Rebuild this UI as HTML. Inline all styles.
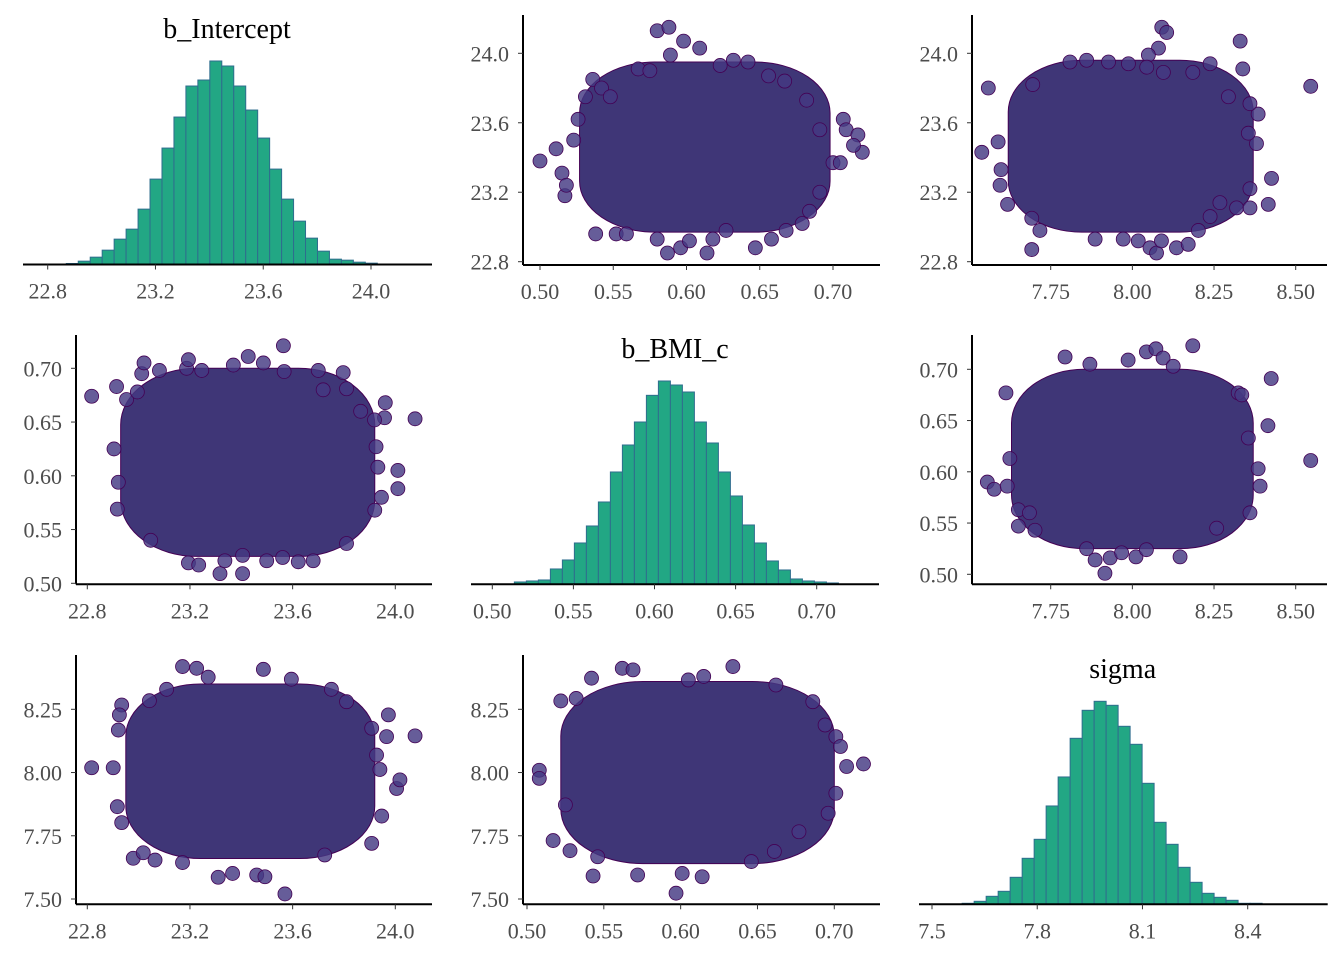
<!DOCTYPE html>
<html><head><meta charset="utf-8"><style>
html,body{margin:0;padding:0;background:#fff;}
svg{display:block;font-family:"Liberation Serif",serif;}
</style></head><body>
<svg id="chart" width="1344" height="960" viewBox="0 0 1344 960" xmlns="http://www.w3.org/2000/svg"></svg>
<script>
// ---------- histogram data ----------
const histInterceptCounts=[3,10,22,43,76,106,166,256,349,442,535,553,610,595,535,463,379,286,196,130,79,40,16,13,7,4];
const histInterceptStart=22.869, histInterceptWidth=0.0444;
const histBmiCounts=[7,10,13,46,73,124,175,247,337,418,487,567,610,598,577,487,424,337,265,178,124,70,43,16,10,7,4];
const histBmiStart=0.5136, histBmiWidth=0.0074;
const histSigmaCounts=[3,9,24,39,81,138,195,295,382,498,582,609,597,534,480,363,246,180,111,66,33,21,12,3,3];
const histSigmaStart=7.586, histSigmaWidth=0.0342;
const interceptTicks=["22.8","23.2","23.6","24.0"];
const bmiTicks=["0.50","0.55","0.60","0.65","0.70"];
const sigmaTicks=["7.75","8.00","8.25","8.50"];
const sigmaHistTicks=["7.5","7.8","8.1","8.4"];
const interceptYTicks=["22.8","23.2","23.6","24.0"];
const bmiYTicks=["0.50","0.55","0.60","0.65","0.70"];
const sigmaYTicks=["7.50","7.75","8.00","8.25"];

// ---------- scatter data (visible edge/outlier draws) ----------
const p12x=[0.50,0.511,0.515,0.517,0.518,0.523,0.526,0.531,0.536,0.538,0.542,0.548,0.567,0.580,0.588,0.598,0.609,0.614,0.596,0.587,0.580,0.602,0.618,0.627,0.647,0.658,0.668,0.679,0.684,0.691,0.700,0.705,0.707,0.709,0.717,0.720,0.714,0.691,0.682,0.667,0.656,0.642,0.632,0.623,0.589,0.575,0.552,0.559];
const p12y=[23.38,23.45,23.31,23.18,23.24,23.50,23.62,23.75,23.85,22.96,23.80,23.75,23.91,24.13,24.15,24.07,24.03,22.85,22.88,22.85,22.93,22.92,22.93,22.98,22.88,22.93,22.98,23.02,23.09,23.20,23.37,23.37,23.62,23.56,23.53,23.43,23.47,23.56,23.73,23.84,23.87,23.95,23.96,23.93,23.99,23.90,22.96,22.96];
const p13x=[7.539,7.559,7.589,7.598,7.595,7.618,7.692,7.717,7.692,7.695,7.809,7.860,7.886,7.927,7.988,7.972,8.018,8.054,8.074,8.089,8.135,8.171,8.202,8.238,8.268,8.319,8.360,8.416,8.426,8.360,8.380,8.355,8.385,8.360,8.330,8.338,8.546,8.294,8.238,8.185,8.090,8.105,8.080,8.049,8.095,8.044];
const p13y=[23.43,23.80,23.49,23.33,23.24,23.13,22.87,22.98,23.05,23.82,23.95,23.96,22.93,23.95,23.94,22.93,22.92,22.88,22.85,22.92,22.88,22.90,22.98,23.06,23.14,23.11,23.11,23.13,23.28,23.22,23.48,23.54,23.65,23.71,24.07,23.91,23.81,23.75,23.94,23.89,24.15,24.12,24.03,23.99,23.89,23.92];
const p21x=[22.817,22.914,22.904,22.917,22.921,22.953,22.995,23.012,23.021,23.081,23.047,23.187,23.194,23.246,23.194,23.234,23.317,23.336,23.405,23.405,23.499,23.561,23.622,23.680,23.810,23.920,23.946,24.010,24.010,23.932,23.925,23.958,23.919,23.961,24.077,23.865,23.810,23.797,23.700,23.564,23.567,23.486,23.427,23.369,23.719];
const p21y=[0.674,0.683,0.625,0.569,0.594,0.671,0.678,0.695,0.705,0.698,0.540,0.700,0.708,0.698,0.519,0.517,0.509,0.521,0.509,0.526,0.521,0.524,0.520,0.521,0.537,0.568,0.580,0.588,0.605,0.608,0.627,0.654,0.652,0.668,0.653,0.660,0.681,0.696,0.698,0.721,0.697,0.705,0.711,0.703,0.680];
const p23x=[7.556,7.577,7.613,7.617,7.625,7.651,7.651,7.702,7.685,7.794,7.870,7.860,7.886,7.916,7.932,7.967,8.011,8.043,8.146,8.043,8.072,8.094,8.125,8.185,7.987,8.324,8.335,8.425,8.415,8.546,8.391,8.360,8.355,8.385,8.258];
const p23y=[0.590,0.583,0.677,0.586,0.613,0.563,0.547,0.543,0.560,0.712,0.705,0.525,0.514,0.501,0.516,0.521,0.517,0.524,0.517,0.717,0.720,0.711,0.703,0.723,0.709,0.677,0.675,0.691,0.645,0.611,0.586,0.560,0.633,0.603,0.545];
const p31x=[22.817,22.901,22.917,22.934,22.921,22.934,22.925,22.979,23.018,23.064,23.042,23.109,23.171,23.226,23.271,23.171,23.310,23.366,23.460,23.492,23.570,23.486,23.595,23.725,23.908,23.947,24.005,24.018,23.940,23.927,23.966,23.973,23.908,24.077,23.810,23.751];
const p31y=[8.019,8.019,7.865,7.802,8.168,8.267,8.228,7.661,7.683,7.654,8.284,8.329,8.419,8.412,8.377,7.644,7.586,7.601,7.595,7.588,7.520,8.408,8.369,7.674,7.720,7.828,7.937,7.971,8.012,8.069,8.142,8.228,8.175,8.145,8.280,8.329];
const p32x=[0.508,0.508,0.517,0.528,0.525,0.522,0.532,0.542,0.546,0.543,0.562,0.569,0.572,0.597,0.601,0.614,0.634,0.615,0.605,0.662,0.686,0.694,0.701,0.719,0.708,0.701,0.696,0.677,0.661,0.646,0.704];
const p32y=[8.009,7.977,7.731,7.691,7.872,8.283,8.293,8.373,7.667,7.591,8.412,8.406,7.595,7.523,7.601,7.588,8.419,8.380,8.366,8.346,8.280,8.188,8.142,8.034,8.024,7.918,7.839,7.766,7.688,7.648,8.103];
// dense core of each cloud: [xMin, xMax, yMin, yMax] in data units
const core12=[0.527,0.698,22.97,23.95];
const core13=[7.62,8.37,22.97,23.96];
const core21=[22.93,23.92,0.525,0.700];
const core23=[7.63,8.37,0.525,0.700];
const core31=[22.95,23.92,7.66,8.35];
const core32=[0.522,0.700,7.64,8.36];

const svg=document.getElementById('chart');
const NS='http://www.w3.org/2000/svg';
function mk(tag,attrs,parent){const e=document.createElementNS(NS,tag);for(const k in attrs)e.setAttribute(k,attrs[k]);(parent||svg).appendChild(e);return e;}
function lin(d0,p0,d1,p1){return v=>p0+(v-d0)*(p1-p0)/(d1-d0);}

function xAxis(g,sx,ticks,y,x0,x1){
  const a=mk('line',{x1:x0,x2:x1,y1:y,y2:y,stroke:'#000','stroke-width':2},g);
  
  ticks.forEach(t=>{const x=sx(parseFloat(t));
    const l=mk('line',{x1:x,x2:x,y1:y,y2:y+5,stroke:'#333','stroke-width':1},g);
    
    const tx=mk('text',{x:x,y:y+34,'text-anchor':'middle','font-size':22,fill:'#4d4d4d'},g);tx.textContent=t;
    });
}
function yAxis(g,sy,ticks,x,y0,y1){
  const a=mk('line',{x1:x,x2:x,y1:y0,y2:y1,stroke:'#000','stroke-width':2},g);
  
  ticks.forEach(t=>{const y=sy(parseFloat(t));
    const l=mk('line',{x1:x-5,x2:x,y1:y,y2:y,stroke:'#333','stroke-width':1},g);
    
    const tx=mk('text',{x:x-14,y:y+8,'text-anchor':'end','font-size':22,fill:'#4d4d4d'},g);tx.textContent=t;
    });
}
function hist(name,title,counts,start,width,sx,base,top,ticks,x0,x1,tcx,tcy){
  const g=mk('g',{});
  const max=Math.max(...counts);
  counts.forEach((c,i)=>{const xa=sx(start+i*width),xb=sx(start+(i+1)*width),h=c/max*(base-top);
    const r=mk('rect',{x:xa,y:base-h,width:xb-xa,height:h,fill:'#22a784',stroke:'#2f6d8e','stroke-width':1},g);
    });
  xAxis(g,sx,ticks,base,x0,x1);
  const t=mk('text',{x:tcx,y:tcy,'text-anchor':'middle','font-size':28,fill:'#000'},g);t.textContent=title;
  
}
function scatter(name,xs,ys,core,sx,sy,xt,yt,ax,ay,axEnd,ayTop){
  const g=mk('g',{});
  const cx0=sx(core[0]),cx1=sx(core[1]),cy0=sy(core[3]),cy1=sy(core[2]);
  const w=cx1-cx0,h=cy1-cy0;
  const c=mk('rect',{x:cx0,y:cy0,width:w,height:h,rx:w*0.3,ry:h*0.3,fill:'#3f3677',stroke:'#440154','stroke-width':1},g);
  
  xs.forEach((v,i)=>{const p=mk('circle',{cx:sx(v),cy:sy(ys[i]),r:7,fill:'rgba(68,57,131,0.82)',stroke:'#440154','stroke-width':0.8},g);
    });
  xAxis(g,sx,xt,ay,ax,axEnd);
  yAxis(g,sy,yt,ax,ayTop,ay);
}
// scales
const sxI1=lin(22.8,47.7,24.0,371);
const sxB2=lin(0.50,540,0.70,833);
const syI=lin(22.8,261.7,24.0,53.3);
const sxS3=lin(7.75,1050.7,8.50,1295.7);
const sxI2=lin(22.8,87.3,24.0,395.3);
const syB4=lin(0.50,583.3,0.70,368.3);
const sxB5=lin(0.50,492.3,0.70,816.7);
const syB6=lin(0.50,574.3,0.70,369.3);
const syS=lin(7.50,899,8.25,709.3);
const sxB8=lin(0.50,527,0.70,834.3);
const sxS9=lin(7.5,932,8.4,1247.7);

hist('hist-b-intercept','b_Intercept',histInterceptCounts,histInterceptStart,histInterceptWidth,sxI1,264.5,61,interceptTicks,23,432,227,38);
scatter('scatter-bmi-vs-intercept',p12x,p12y,core12,sxB2,syI,bmiTicks,interceptYTicks,523,265,880,15);
scatter('scatter-sigma-vs-intercept',p13x,p13y,core13,sxS3,syI,sigmaTicks,interceptYTicks,972,265,1327,15);
scatter('scatter-intercept-vs-bmi',p21x,p21y,core21,sxI2,syB4,interceptTicks,bmiYTicks,76,584.3,432,335);
hist('hist-b-bmi-c','b_BMI_c',histBmiCounts,histBmiStart,histBmiWidth,sxB5,584.3,381,bmiTicks,471,879,675,358);
scatter('scatter-sigma-vs-bmi',p23x,p23y,core23,sxS3,syB6,sigmaTicks,bmiYTicks,972,584.3,1327,335);
scatter('scatter-intercept-vs-sigma',p31x,p31y,core31,sxI2,syS,interceptTicks,sigmaYTicks,76,904.3,432,655);
scatter('scatter-bmi-vs-sigma',p32x,p32y,core32,sxB8,syS,bmiTicks,sigmaYTicks,523,904.3,880,655);
hist('hist-sigma','sigma',histSigmaCounts,histSigmaStart,histSigmaWidth,sxS9,904.3,701.3,sigmaHistTicks,919,1327.7,1122.7,678);
</script>
</body></html>
